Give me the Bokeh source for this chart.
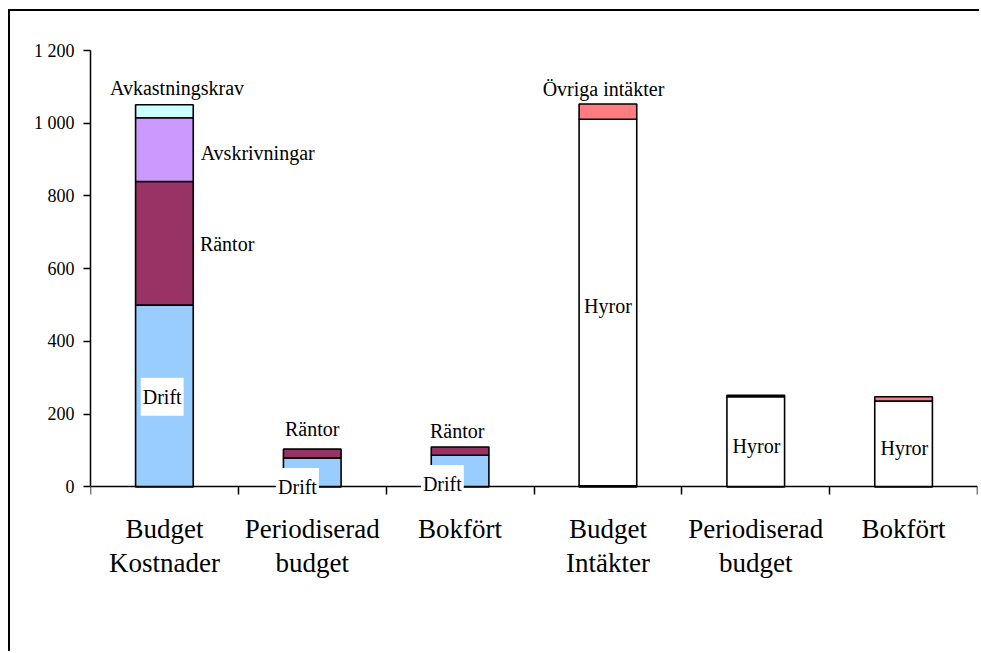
from bokeh.plotting import figure
from bokeh.models import ColumnDataSource, FixedTicker, LinearAxis, Range1d, Label
from bokeh.transform import stack
from bokeh.embed import file_html
from bokeh.resources import INLINE

# ---- data ----
categories = ["Budget\nKostnader", "Periodiserad\nbudget", "Bokfört",
              "Budget\nIntäkter", "Periodiserad\nbudget", "Bokfört"]
ovrigt = [0, 0, 0, 3, 0, 0]
drift = [500, 80, 87, 0, 0, 0]
rantor = [340, 24, 23, 0, 0, 0]
avskrivningar = [175, 0, 0, 0, 0, 0]
avkastningskrav = [36, 0, 0, 0, 0, 0]
hyror = [0, 0, 0, 1008, 248, 236]
ovriga_intakter = [0, 0, 0, 42, 4, 12]

y_ticks = [0, 200, 400, 600, 800, 1000, 1200]
y_tick_labels = ["0", "200", "400", "600", "800", "1 000", "1 200"]

# label texts with their anchor (category position, value)
label_texts = ["Avkastningskrav", "Avskrivningar", "Räntor", "Drift",
               "Räntor", "Drift", "Räntor", "Drift",
               "Övriga intäkter", "Hyror", "Hyror", "Hyror"]
label_x = [0.585, 0.745, 0.74, 0.485, 1.5, 1.40, 2.48, 2.38, 3.47, 3.5, 4.505, 5.505]
label_y = [1098, 919, 669, 248, 160, 0, 154, 8, 1093, 498, 113, 107]
label_align = ["center", "left", "left", "center", "center", "center",
               "center", "center", "center", "center", "center", "center"]
label_bg = [False, False, False, True, False, True, False, True, False, False, False, False]

series = [("ovrigt", ovrigt, "white"),
          ("drift", drift, "#99CCFF"),
          ("rantor", rantor, "#993366"),
          ("avskrivningar", avskrivningar, "#CC99FF"),
          ("avkastningskrav", avkastningskrav, "#CCFFFF"),
          ("hyror", hyror, "white"),
          ("ovriga", ovriga_intakter, "#FF7C80")]

FONT = "'Liberation Serif', 'Times New Roman', serif"

data = {"x": [i + 0.5 for i in range(len(categories))]}
for name, vals, _ in series:
    data[name] = vals
    data[name + "_la"] = [1.0 if v > 0 else 0.0 for v in vals]
src = ColumnDataSource(data)

p = figure(width=971, height=642, output_backend="svg", toolbar_location=None,
           x_range=Range1d(0, len(categories)), y_range=Range1d(-40, 1200),
           min_border_left=80, min_border_top=39, min_border_right=4,
           min_border_bottom=152)
p.styles = {"border-top": "2px solid black", "border-left": "2px solid black",
            "margin-left": "8px", "margin-top": "9px"}
p.outline_line_color = None
p.xgrid.grid_line_color = None
p.ygrid.grid_line_color = None
p.background_fill_color = "white"
p.border_fill_color = "white"

names = [s[0] for s in series]
for i, (name, vals, color) in enumerate(series):
    p.vbar(x="x", width=0.39, bottom=stack(*names[:i]), top=stack(*names[:i + 1]),
           source=src, fill_color=color, line_color="black",
           line_alpha=name + "_la", fill_alpha=name + "_la", line_width=1.6)

# y axis
ya = p.yaxis[0]
ya.ticker = FixedTicker(ticks=y_ticks)
ya.bounds = (0, 1200)
ya.major_label_overrides = {t: l for t, l in zip(y_ticks, y_tick_labels)}
ya.minor_tick_line_color = None
ya.major_tick_in = 0
ya.major_tick_out = 7
ya.axis_line_width = 1.5
ya.major_tick_line_width = 1.5
ya.major_label_text_font = FONT
ya.major_label_text_font_size = "18px"
ya.major_label_text_color = "black"
ya.major_label_standoff = 9

# x axis: boundary ticks, drawn at value 0
xa = p.xaxis[0]
xa.fixed_location = 0
xa.ticker = FixedTicker(ticks=list(range(len(categories) + 1)))
xa.minor_tick_line_color = None
xa.major_tick_in = 0
xa.major_tick_out = 8
xa.axis_line_width = 1.5
xa.major_tick_line_width = 1.5
xa.major_label_text_font_size = "0px"
xa.major_label_standoff = 0

# x axis: category labels
centers = [i + 0.5 for i in range(len(categories))]
xa2 = LinearAxis(ticker=FixedTicker(ticks=centers),
                 major_label_overrides={c: t for c, t in zip(centers, categories)})
xa2.axis_line_color = None
xa2.major_tick_line_color = None
xa2.minor_tick_line_color = None
xa2.major_label_text_font = FONT
xa2.major_label_text_font_size = "27px"
xa2.major_label_text_color = "black"
xa2.major_label_text_line_height = 1.15
xa2.major_label_standoff = 6
p.add_layout(xa2, "below")

for t, x, y, al, bg in zip(label_texts, label_x, label_y, label_align, label_bg):
    kw = {}
    if bg:
        kw = dict(background_fill_color="white", padding=dict(top=8, right=2, bottom=8, left=2))
    p.add_layout(Label(x=x, y=y, text=t, text_font=FONT, text_font_size="20px",
                       text_color="black", text_align=al, text_baseline="middle", **kw))

open("out.html", "w").write(file_html(p, INLINE))
